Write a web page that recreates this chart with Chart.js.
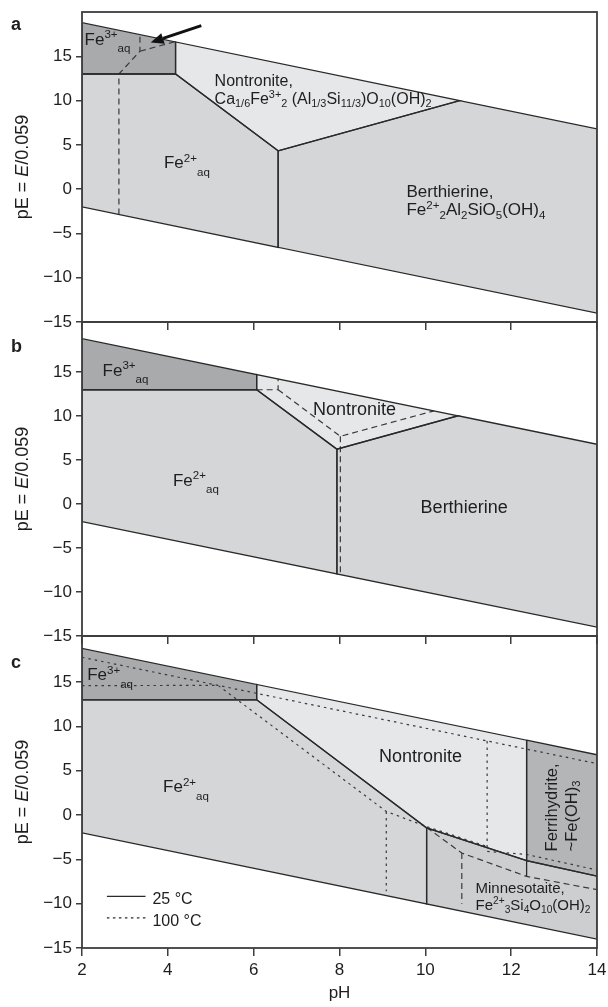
<!DOCTYPE html>
<html>
<head>
<meta charset="utf-8">
<script src="https://cdn.jsdelivr.net/npm/chart.js@4.4.1/dist/chart.umd.min.js"></script>
<style>
  html, body { margin: 0; padding: 0; background: #fff; }
  #wrap { position: relative; width: 608px; height: 1007px; overflow: hidden; }
  canvas { position: absolute; left: 0; }
</style>
</head>
<body>
<div id="wrap">
  <canvas id="panelA" width="608" height="340" style="top:0px"></canvas>
  <canvas id="panelB" width="608" height="344" style="top:310px"></canvas>
  <canvas id="panelC" width="608" height="383" style="top:624px"></canvas>
</div>
<script>
// pH / pE vertices

const pHTicks = [2, 4, 6, 8, 10, 12, 14];
const pETicks = [-15, -10, -5, 0, 5, 10, 15];

// a
const aFe3 = [[2, 13], [2, 18.8], [4.18, 16.62], [4.18, 13]];
const aFe2 = [[2, 13], [4.18, 13], [6.57, 4.33], [6.57, -6.57], [2, -2]];
const aNontronite = [[4.18, 13], [4.18, 16.62], [10.8, 10.0], [6.57, 4.33]];
const aBerthierine = [[6.57, 4.33], [10.8, 10.0], [14, 6.8], [14, -14], [6.57, -6.57]];
const aDash1 = [[2.86, -2.86], [2.86, 13], [3.35, 15.57], [3.35, 17.45]];
const aDash2 = [[3.35, 15.57], [4.16, 16.64]];

// b
const bFe3 = [[2, 13], [2, 18.8], [6.07, 14.73], [6.07, 13]];
const bFe2 = [[2, 13], [6.07, 13], [7.94, 6.24], [7.94, -7.94], [2, -2]];
const bNontronite = [[6.07, 13], [6.07, 14.73], [10.76, 10.04], [7.94, 6.24]];
const bBerthierine = [[7.94, 6.24], [10.76, 10.04], [14, 6.8], [14, -14], [7.94, -7.94]];
const bDash1 = [[6.07, 13], [6.57, 13], [6.57, 14.23]];
const bDash2 = [[6.57, 13], [8.02, 7.7], [10.2, 10.6]];
const bDash3 = [[8.02, 7.7], [8.02, -8.02]];

// c, 25 °C fields
const cFe3 = [[2, 13], [2, 18.8], [6.07, 14.73], [6.07, 13]];
const cFe2 = [[2, 13], [6.07, 13], [10.03, -1.45], [10.03, -10.03], [2, -2]];
const cNontronite = [[6.07, 13], [6.07, 14.73], [12.36, 8.44], [12.36, -5.15], [10.03, -1.45]];
const cFerrihydrite = [[12.36, 8.44], [14, 6.8], [14, -6.9], [12.36, -5.15]];
const cMinnesotaite = [[10.03, -1.45], [12.36, -5.15], [14, -6.9], [14, -14], [10.03, -10.03]];
const cSolidTail = [[12.36, -5.15], [12.36, -6.92]];
// c, 100 °C boundaries
const cDot1 = [[2, 17.8], [14, 5.8]];
const cDot2 = [[2, 14.6], [5.17, 14.63], [9.09, 0.4], [10.03, -1.3], [11.44, -3.55]];
const cDot3 = [[9.09, 0.4], [9.09, -8.6]];
const cDot4 = [[11.44, 8.36], [11.44, -4.1], [12.36, -4.45], [14, -6.2]];
// c, dashed
const cDash1 = [[10.03, -1.4], [10.85, -4.29], [12.36, -6.92], [14, -8.42]];
const cDash2 = [[10.85, -4.29], [10.85, -10]];

const DARK = '#a9aaac';
const MID = '#d5d6d8';
const LIGHT = '#e6e7e9';
const FERRI = '#b4b5b7';
const MINN = '#cdced0';
const LINE = '#2a2a2a';
const AXIS = '#3d3d3d';
const TEXT = '#1e1e1e';
const FONT = '"Liberation Sans", Arial, Helvetica, sans-serif';

const DASH = [6, 4];
const DOT = [2.5, 4];

const toPts = arr => arr.map(([x, y]) => ({ x, y }));

function polygon(pts, color) {
  return {
    data: toPts(pts.concat([pts[0]])),
    backgroundColor: color,
    borderColor: LINE,
    borderWidth: 1.3,
    borderJoinStyle: 'miter',
    fill: 'shape',
    pointRadius: 0,
    tension: 0
  };
}

function path(pts, dash, width) {
  return {
    data: toPts(pts),
    borderColor: dash ? '#3a3a3a' : LINE,
    borderWidth: width || 1.2,
    borderDash: dash || [],
    fill: false,
    pointRadius: 0,
    tension: 0
  };
}

// draws text with super/subscripts; kinds: u = sup, d = sub, D = low sub, i = italic
function richText(ctx, x, y, parts, size) {
  let cx = x;
  parts.forEach(([t, k]) => {
    const small = (k === 'u' || k === 'd' || k === 'D');
    const fs = small ? size * 0.68 : size;
    ctx.font = (k === 'i' ? 'italic ' : '') + fs + 'px ' + FONT;
    let dy = 0;
    if (k === 'u') dy = -size * 0.38;
    if (k === 'd') dy = size * 0.22;
    if (k === 'D') dy = size * 0.45;
    ctx.fillText(t, cx, y + dy);
    cx += ctx.measureText(t).width;
  });
  return cx - x;
}

const decor = {
  id: 'decor',
  afterDraw(chart, args, o) {
    const { ctx, chartArea: a, scales: { x, y } } = chart;
    ctx.save();
    ctx.strokeStyle = AXIS;
    ctx.lineWidth = 1.8;
    ctx.strokeRect(a.left, a.top, a.right - a.left, a.bottom - a.top);

    ctx.fillStyle = TEXT;
    ctx.textAlign = 'left';
    ctx.textBaseline = 'alphabetic';
    (o.labels || []).forEach(l => {
      ctx.save();
      ctx.translate(x.getPixelForValue(l.at[0]), y.getPixelForValue(l.at[1]));
      if (l.rotate) ctx.rotate(-Math.PI / 2);
      l.lines.forEach((parts, i) => richText(ctx, 0, i * (l.lead || 0), parts, l.size));
      ctx.restore();
    });

    // panel letter
    ctx.font = 'bold 18px ' + FONT;
    ctx.fillText(o.letter, 11, a.top + o.letterDy);

    // y title
    ctx.save();
    ctx.translate(23, (a.top + a.bottom) / 2);
    ctx.rotate(-Math.PI / 2);
    ctx.textBaseline = 'middle';
    const parts = [['pE = '], ['E', 'i'], ['/0.059']];
    let w = 0;
    parts.forEach(([t, k]) => { ctx.font = (k === 'i' ? 'italic ' : '') + '18px ' + FONT; w += ctx.measureText(t).width; });
    richText(ctx, -w / 2, 0, parts, 18);
    ctx.restore();

    if (o.arrow) {
      const x0 = x.getPixelForValue(o.arrow.from[0]), y0 = y.getPixelForValue(o.arrow.from[1]);
      const x1 = x.getPixelForValue(o.arrow.to[0]), y1 = y.getPixelForValue(o.arrow.to[1]);
      const ang = Math.atan2(y1 - y0, x1 - x0);
      const hl = 13, hw = 5.5;
      const bx = x1 - hl * Math.cos(ang), by = y1 - hl * Math.sin(ang);
      ctx.strokeStyle = '#111';
      ctx.lineWidth = 3;
      ctx.beginPath(); ctx.moveTo(x0, y0); ctx.lineTo(bx, by); ctx.stroke();
      ctx.fillStyle = '#111';
      ctx.beginPath();
      ctx.moveTo(x1, y1);
      ctx.lineTo(bx + hw * Math.sin(ang), by - hw * Math.cos(ang));
      ctx.lineTo(bx - hw * Math.sin(ang), by + hw * Math.cos(ang));
      ctx.closePath(); ctx.fill();
    }

    if (o.key) {
      ctx.strokeStyle = LINE;
      ctx.fillStyle = TEXT;
      ctx.font = '16px ' + FONT;
      o.key.forEach(k => {
        const yy = y.getPixelForValue(k.lineAt[1]);
        ctx.lineWidth = 1.3;
        ctx.setLineDash(k.dash);
        ctx.beginPath();
        ctx.moveTo(x.getPixelForValue(k.lineAt[0]), yy);
        ctx.lineTo(x.getPixelForValue(k.lineEnd), yy);
        ctx.stroke();
        ctx.setLineDash([]);
        ctx.fillText(k.text, x.getPixelForValue(k.textAt[0]), y.getPixelForValue(k.textAt[1]));
      });
    }
    ctx.restore();
  }
};

function makePanel(id, yMax, datasets, xHeight, showX, extra) {
  return new Chart(document.getElementById(id), {
    type: 'line',
    data: { datasets },
    options: {
      responsive: false,
      animation: false,
      events: [],
      layout: { padding: { left: 0, right: 11, top: 12, bottom: 0 } },
      scales: {
        x: {
          type: 'linear',
          min: pHTicks[0],
          max: pHTicks[pHTicks.length - 1],
          afterBuildTicks: s => { s.ticks = pHTicks.map(v => ({ value: v })); },
          afterFit: s => { s.height = xHeight; s.paddingLeft = 0; s.paddingRight = 0; },
          border: { display: false },
          grid: { drawOnChartArea: false, drawTicks: true, tickLength: 8, color: AXIS, lineWidth: 1.5 },
          ticks: { display: showX, padding: 4, color: TEXT, font: { family: FONT, size: 17 }, maxRotation: 0 },
          title: { display: showX, text: 'pH', color: TEXT, font: { family: FONT, size: 17 }, padding: { top: 0, bottom: 3 } }
        },
        y: {
          type: 'linear',
          min: pETicks[0],
          max: yMax,
          afterBuildTicks: s => { s.ticks = pETicks.map(v => ({ value: v })); },
          afterFit: s => { s.width = 82; s.paddingTop = 0; s.paddingBottom = 0; },
          border: { display: false },
          grid: { drawOnChartArea: false, drawTicks: true, tickLength: 6, color: AXIS, lineWidth: 1.5 },
          ticks: {
            padding: 4, color: TEXT, font: { family: FONT, size: 17 },
            callback: v => String(v).replace('-', '\u2212')
          }
        }
      },
      plugins: {
        legend: { display: false },
        tooltip: { enabled: false },
        filler: { drawTime: 'beforeDatasetsDraw' },
        decor: extra
      }
    },
    plugins: [decor]
  });
}

const feAq = (c) => [['Fe'], [c, 'u'], ['aq', 'D']];

makePanel('panelA', 20, [
  polygon(aFe3, DARK), polygon(aFe2, MID), polygon(aNontronite, LIGHT), polygon(aBerthierine, MID),
  path(aDash1, DASH), path(aDash2, DASH)
], 18, false, {
  letter: 'a', letterDy: 18,
  arrow: { from: [4.78, 18.47], to: [3.6, 16.55] },
  labels: [
    { at: [2.06, 16.32], size: 17, lines: [feAq('3+')] },
    { at: [5.09, 11.69], size: 16, lead: 18, lines: [
      [['Nontronite,']],
      [['Ca'], ['1/6', 'd'], ['Fe'], ['3+', 'u'], ['2', 'd'], [' (Al'], ['1/3', 'd'], ['Si'], ['11/3', 'd'], [')O'], ['10', 'd'], ['(OH)'], ['2', 'd']]
    ] },
    { at: [3.91, 2.38], size: 17, lines: [feAq('2+')] },
    { at: [9.56, -0.84], size: 17, lead: 18.5, lines: [
      [['Berthierine,']],
      [['Fe'], ['2+', 'u'], ['2', 'd'], ['Al'], ['2', 'd'], ['SiO'], ['5', 'd'], ['(OH)'], ['4', 'd']]
    ] }
  ]
});

makePanel('panelB', 20.7, [
  polygon(bFe3, DARK), polygon(bFe2, MID), polygon(bNontronite, LIGHT), polygon(bBerthierine, MID),
  path(bDash1, DASH), path(bDash2, DASH), path(bDash3, DASH)
], 18, false, {
  letter: 'b', letterDy: 30,
  labels: [
    { at: [2.48, 14.58], size: 17, lines: [feAq('3+')] },
    { at: [4.12, 2.1], size: 17, lines: [feAq('2+')] },
    { at: [7.38, 10.15], size: 18, lines: [[['Nontronite']]] },
    { at: [9.89, -1.04], size: 18, lines: [[['Berthierine']]] }
  ]
});

makePanel('panelC', 20.2, [
  polygon(cFe3, DARK), polygon(cFe2, MID), polygon(cNontronite, LIGHT),
  polygon(cFerrihydrite, FERRI), polygon(cMinnesotaite, MINN),
  path(cSolidTail, null, 1.3),
  path(cDot1, DOT), path(cDot2, DOT), path(cDot3, DOT), path(cDot4, DOT),
  path(cDash1, DASH), path(cDash2, DASH)
], 59, true, {
  letter: 'c', letterDy: 32,
  labels: [
    { at: [2.12, 15.18], size: 17, lines: [feAq('3+')] },
    { at: [3.89, 2.59], size: 17, lines: [feAq('2+')] },
    { at: [8.92, 6.04], size: 18, lines: [[['Nontronite']]] },
    { at: [13.06, -4.1], size: 16.5, lead: 20, rotate: true, lines: [
      [['Ferrihydrite,']],
      [['~Fe(OH)'], ['3', 'd']]
    ] },
    { at: [11.17, -8.8], size: 15, lead: 17, lines: [
      [['Minnesotaite,']],
      [['Fe'], ['2+', 'u'], ['3', 'd'], ['Si'], ['4', 'd'], ['O'], ['10', 'd'], ['(OH)'], ['2', 'd']]
    ] }
  ],
  key: [
    { lineAt: [2.58, -9.18], lineEnd: 3.48, dash: [], text: '25 \u00b0C', textAt: [3.64, -10.0] },
    { lineAt: [2.58, -11.6], lineEnd: 3.48, dash: [2.5, 3.5], text: '100 \u00b0C', textAt: [3.64, -12.5] }
  ]
});
</script>
</body>
</html>
